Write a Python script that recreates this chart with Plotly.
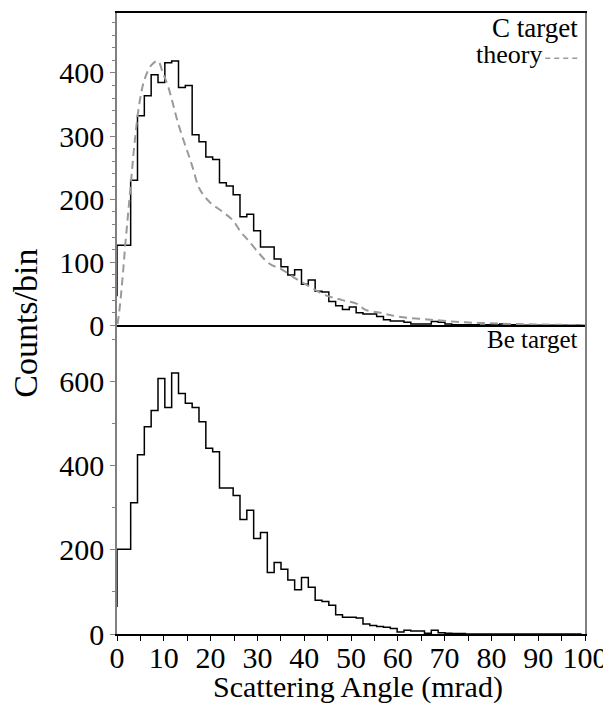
import numpy as np
import plotly.graph_objects as go
from plotly.subplots import make_subplots

# ---------------- data ----------------
BIN_WIDTH = 1.46  # mrad

# C target histogram (counts per bin, bins start at 0 mrad)
c_first = 46
c_counts = [127, 127, 230, 332, 364, 397, 385, 416, 419, 377, 380, 302, 291, 267,
            263, 226, 221, 207, 172, 176, 150, 124, 124, 105, 93, 80, 88, 65, 72,
            54, 53, 38, 31, 25, 29, 20, 18, 18, 14, 9, 7, 7, 5, 2, 2, 2, 6, 5, 2,
            1, 1, 1, 1, 0, 1, 1, 2, 1, 1, 0, 0, 0, 0, 0, 0, 0, 0, 0]

# Be target histogram
be_first = 64
be_counts = [201, 201, 312, 426, 492, 531, 607, 538, 620, 571, 548, 538, 504, 441,
             433, 347, 347, 329, 272, 294, 227, 241, 146, 170, 154, 128, 105, 134,
             111, 80, 77, 68, 46, 40, 40, 38, 24, 20, 18, 16, 13, 5, 9, 7, 7, 2, 9,
             3, 2, 1, 1, 0, 0, 0, 0, 0, 0, 0, 0, 0, 0, 0, 0, 0, 0, 0, 0, 0]

# theory curve (C target)
theory_x = [0.1, 0.45, 0.85, 1.3, 1.7, 2.35, 3.06, 3.77, 4.83, 5.89, 7.31, 8.73,
            9.79, 10.86, 11.92, 12.8, 14.0, 15.3, 16.18, 17.6, 19.72, 22.56,
            24.69, 26.46, 28.23, 30.36, 32.5, 35.33, 38.2, 41.0, 44.5, 48.1,
            51.3, 53.0, 56.5, 60.0, 67.0, 74.0, 81.0, 88.0, 95.0, 100.0]
theory_y = [2, 20, 48, 85, 122, 175, 233, 290, 354, 390, 412, 419,
            400, 380, 352, 327, 298, 270, 250, 217, 196, 180,
            167, 148, 133, 114, 98, 88, 74, 62, 48, 40,
            34, 25, 19.5, 14, 9, 5, 3, 1.6, 0.8, 0.3]

x_ticks = [0, 10, 20, 30, 40, 50, 60, 70, 80, 90, 100]
top_y_ticks = [0, 100, 200, 300, 400]
bot_y_ticks = [0, 200, 400, 600]


def step_xy(first, counts):
    edges = np.arange(len(counts) + 1) * BIN_WIDTH
    xs = [0.0] + list(edges)
    ys = [first] + list(counts) + [counts[-1]]
    return xs, ys


FONT = "Liberation Serif, Times New Roman, Times, DejaVu Serif, serif"
AXIS_GRAY = "#808080"

fig = make_subplots(rows=2, cols=1, shared_xaxes=True, vertical_spacing=0,
                    row_heights=[0.503, 0.497])

cx, cy = step_xy(c_first, c_counts)
fig.add_trace(go.Scatter(x=cx, y=cy, mode="lines", line=dict(shape="hv", color="black", width=1.5),
                         showlegend=False, hoverinfo="skip"), row=1, col=1)
fig.add_trace(go.Scatter(x=theory_x, y=theory_y, mode="lines",
                         line=dict(shape="spline", color="#9a9a9a", width=2, dash="8px,5px"),
                         showlegend=False, hoverinfo="skip"), row=1, col=1)
bx, by = step_xy(be_first, be_counts)
fig.add_trace(go.Scatter(x=bx, y=by, mode="lines", line=dict(shape="hv", color="black", width=1.5),
                         showlegend=False, hoverinfo="skip"), row=2, col=1)

tickfont = dict(family=FONT, size=30, color="black")

fig.update_xaxes(range=[0, 100], showgrid=False, zeroline=False)
fig.update_xaxes(row=1, col=1, showline=True, linecolor="black", linewidth=1.5, mirror=True,
                 ticks="", showticklabels=False)
fig.update_xaxes(row=2, col=1, showline=True, linecolor="black", linewidth=1.5, mirror=False,
                 ticks="outside", ticklen=5, tickcolor="black", tickwidth=1.2, tickangle=0,
                 ticklabelstandoff=-9,
                 tickvals=x_ticks, ticktext=[str(v) for v in x_ticks], tickfont=tickfont,
                 minor=dict(dtick=5, ticks="outside", ticklen=5, tickcolor="black"))

fig.update_yaxes(showgrid=False, zeroline=False, showline=True, linecolor=AXIS_GRAY,
                 linewidth=1.5, mirror=True, ticks="outside", tickcolor=AXIS_GRAY,
                 ticklen=5, tickfont=tickfont)
fig.update_yaxes(row=1, col=1, range=[0, 495], tickvals=top_y_ticks,
                 minor=dict(dtick=20, ticks="outside", ticklen=3, tickcolor=AXIS_GRAY))
fig.update_yaxes(row=2, col=1, range=[0, 733], tickvals=bot_y_ticks,
                 minor=dict(dtick=100, ticks="outside", ticklen=3, tickcolor=AXIS_GRAY))

fig.add_annotation(text="C target", xref="x domain", yref="y domain", x=0.99, y=1.005,
                   xanchor="right", yanchor="top", showarrow=False,
                   font=dict(family=FONT, size=27, color="black"))
fig.add_annotation(text="theory", xref="x domain", yref="y domain", x=0.912, y=0.92,
                   xanchor="right", yanchor="top", showarrow=False,
                   font=dict(family=FONT, size=26, color="black"))
fig.add_shape(type="line", xref="x domain", yref="y domain", x0=0.915, x1=0.985, y0=0.855, y1=0.855,
              line=dict(color="#9a9a9a", width=1.5, dash="5px,4px"))
fig.add_annotation(text="Be target", xref="x2 domain", yref="y2 domain", x=0.99, y=1.005,
                   xanchor="right", yanchor="top", showarrow=False,
                   font=dict(family=FONT, size=25, color="black"))
fig.add_annotation(text="Counts/bin", xref="paper", yref="paper", x=-0.196, y=0.5,
                   xanchor="center", yanchor="middle", textangle=-90, showarrow=False,
                   font=dict(family=FONT, size=34, color="black"))
fig.add_annotation(text="Scattering Angle (mrad)", xref="paper", yref="paper", x=0.515, y=-0.054,
                   xanchor="center", yanchor="top", showarrow=False,
                   font=dict(family=FONT, size=30, color="black"))

# page body has an 8px margin: compensate so the plot area lands where the reference has it
fig.update_layout(width=603, height=698, margin=dict(l=109, r=24, t=3, b=72),
                  plot_bgcolor="white", paper_bgcolor="white", showlegend=False)

fig.write_html("out.html")
